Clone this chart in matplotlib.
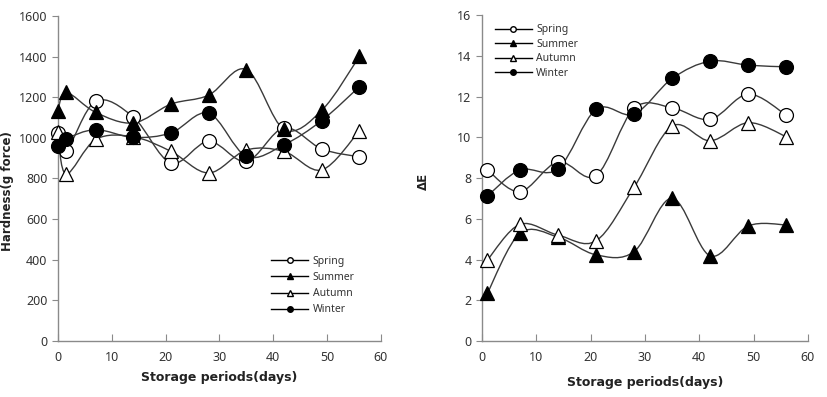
import matplotlib
matplotlib.use("Agg")
import matplotlib.pyplot as plt
from matplotlib.path import Path
from matplotlib.patches import PathPatch
from matplotlib.lines import Line2D
import numpy as np

plt.rcParams['font.family'] = ['Noto Sans', 'DejaVu Sans']

seasons = ['Spring', 'Summer', 'Autumn', 'Winter']

# hardness (left panel)
days_h = [0, 1.5, 7, 14, 21, 28, 35, 42, 49, 56]
spring_h = [1024, 933, 1180, 1102, 876, 983, 884, 1049, 945, 906]
summer_h = [1130, 1224, 1125, 1073, 1166, 1210, 1336, 1042, 1135, 1401]
autumn_h = [1030, 822, 992, 1005, 933, 827, 940, 933, 842, 1035]
winter_h = [958, 995, 1040, 1002, 1024, 1121, 909, 966, 1085, 1252]

# colour difference (right panel)
days_e = [1, 7, 14, 21, 28, 35, 42, 49, 56]
spring_e = [8.4, 7.33, 8.8, 8.12, 11.42, 11.45, 10.88, 12.12, 11.09]
summer_e = [2.35, 5.29, 5.1, 4.23, 4.39, 7.01, 4.18, 5.65, 5.7]
autumn_e = [3.98, 5.73, 5.2, 4.92, 7.55, 10.55, 9.83, 10.72, 10.03]
winter_e = [7.12, 8.4, 8.45, 11.37, 11.14, 12.89, 13.74, 13.54, 13.46]

styles = {
    'Spring': dict(marker='o', mfc='white'),
    'Summer': dict(marker='^', mfc='black'),
    'Autumn': dict(marker='^', mfc='white'),
    'Winter': dict(marker='o', mfc='black'),
}
line_col = '#3a3a3a'
bold_font = ['DejaVu Sans']


def smooth_line(ax, x, y):
    # excel-like smoothed line: cubic bezier through the points
    p = np.column_stack([x, y]).astype(float)
    n = len(p)
    verts = [p[0]]
    codes = [Path.MOVETO]
    for i in range(n - 1):
        p0 = p[i - 1] if i > 0 else p[i]
        p1 = p[i]
        p2 = p[i + 1]
        p3 = p[i + 2] if i + 2 < n else p[i + 1]
        c1 = p1 + (p2 - p0) / 6.0
        c2 = p2 - (p3 - p1) / 6.0
        verts += [c1, c2, p2]
        codes += [Path.CURVE4] * 3
    ax.add_patch(PathPatch(Path(verts, codes), fc='none', ec=line_col, lw=1.0, zorder=2))


def style_axes(ax, ymax, ystep, pad):
    for s in ['top', 'right']:
        ax.spines[s].set_visible(False)
    for s in ['left', 'bottom']:
        ax.spines[s].set_color('#8a8a8a')
        ax.spines[s].set_linewidth(1.0)
    ax.set_xlim(0, 60)
    ax.set_ylim(0, ymax)
    ax.set_xticks(range(0, 61, 10))
    ax.set_yticks(np.arange(0, ymax + 1e-9, ystep))
    ax.tick_params(axis='x', direction='in', length=5, color='#8a8a8a',
                   labelsize=9, labelcolor='#333333', pad=7)
    ax.tick_params(axis='y', direction='out', length=4, color='#8a8a8a',
                   labelsize=9, labelcolor='#333333')
    ax.set_xlabel('Storage periods(days)', fontsize=9, fontweight='bold',
                  family=bold_font, color='#222222', labelpad=pad)


fig = plt.figure(figsize=(8.27, 3.97), dpi=100)
ax1 = fig.add_axes([0.0701, 0.141, 0.3906, 0.819])
ax2 = fig.add_axes([0.5828, 0.141, 0.3942, 0.821])

left = {'Spring': spring_h, 'Summer': summer_h, 'Autumn': autumn_h, 'Winter': winter_h}
right = {'Spring': spring_e, 'Summer': summer_e, 'Autumn': autumn_e, 'Winter': winter_e}

for name in seasons:
    smooth_line(ax1, days_h, left[name])
    ax1.plot(days_h, left[name], ls='none', ms=10, mec='black', mew=0.9,
             zorder=3, clip_on=False, **styles[name])
    smooth_line(ax2, days_e, right[name])
    ax2.plot(days_e, right[name], ls='none', ms=10, mec='black', mew=0.9,
             zorder=3, clip_on=False, **styles[name])

style_axes(ax1, 1600, 200, 5)
style_axes(ax2, 16, 2, 9)

ax1.set_ylabel('Hardness(g force)', fontsize=8.5, fontweight='bold',
               family=bold_font, color='#222222')
ax1.yaxis.set_label_coords(-0.135, 0.46)
ax2.set_ylabel('ΔE', fontsize=8.5, fontweight='bold', family=bold_font, color='#222222')
ax2.yaxis.set_label_coords(-0.16, 0.49)

handles = [Line2D([], [], color='black', lw=1.0, ms=4, mec='black', **styles[s]) for s in seasons]
ax1.legend(handles, seasons, loc='lower left', bbox_to_anchor=(0.63, 0.05), frameon=False,
           fontsize=7.5, handlelength=3.6, labelspacing=0.5, handletextpad=0.4,
           labelcolor='#333333')
ax2.legend(handles, seasons, loc='upper left', bbox_to_anchor=(0.01, 1.0), frameon=False,
           fontsize=7.5, handlelength=3.6, labelspacing=0.33, handletextpad=0.4,
           labelcolor='#333333')

fig.savefig('out.png', dpi=100)
